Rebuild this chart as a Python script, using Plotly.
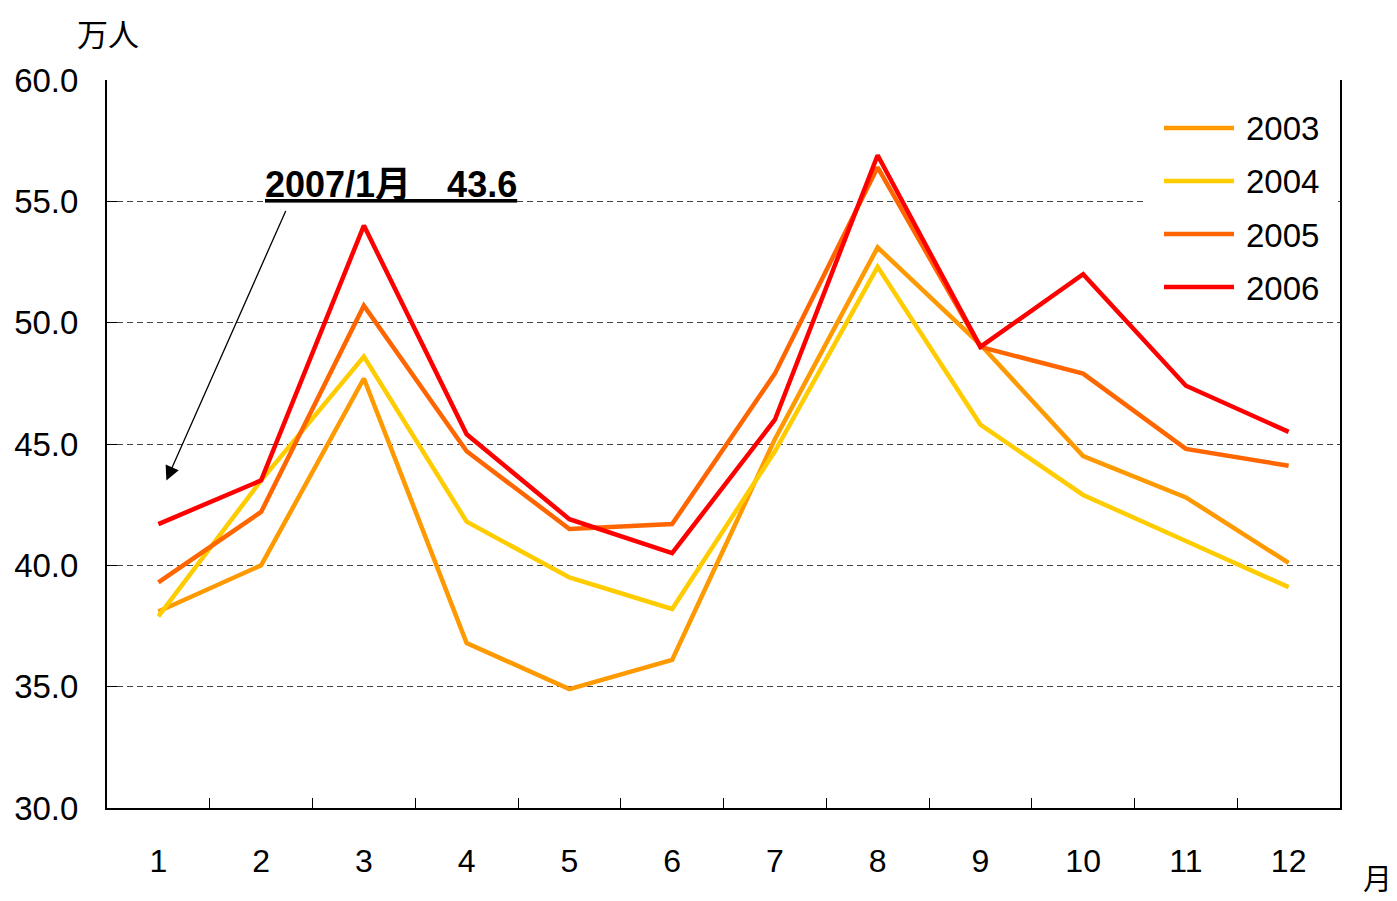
import plotly.graph_objects as go

months = ["1", "2", "3", "4", "5", "6", "7", "8", "9", "10", "11", "12"]
y2003 = [38.1, 40.0, 47.7, 36.8, 34.9, 36.1, 45.2, 53.1, 49.1, 44.5, 42.8, 40.1]
y2004 = [37.9, 43.5, 48.6, 41.8, 39.5, 38.2, 44.7, 52.3, 45.8, 42.9, 41.0, 39.1]
y2005 = [39.3, 42.2, 50.7, 44.7, 41.5, 41.7, 47.9, 56.4, 49.0, 47.9, 44.8, 44.1]
y2006 = [41.7, 43.5, 54.0, 45.4, 41.9, 40.5, 46.0, 56.9, 49.0, 52.0, 47.4, 45.5]
series_names = ["2003", "2004", "2005", "2006"]
colors = ["#FF9900", "#FFCC00", "#FF6600", "#FF0000"]
note_text = "2007/1月\u300043.6"
note_value = 43.5

FONT = "Liberation Sans, Arial, Noto Sans CJK JP, sans-serif"
CJK = "Noto Sans CJK JP, sans-serif"

# plot area in screen pixels (page has an 8px body margin)
OFF = 8
W, H = 1397 - OFF, 901 - OFF
PX0, PX1, PY0, PY1 = 107, 1340, 80, 808
PW, PH = PX1 - PX0, PY1 - PY0


def px(x):
    return (x - PX0) / PW


def py(y):
    return (PY1 - y) / PH


fig = go.Figure()
for name, vals, col in zip(series_names, [y2003, y2004, y2005, y2006], colors):
    fig.add_trace(go.Scatter(
        x=months, y=vals, name=name, mode="lines",
        line=dict(color=col, width=4.5),
    ))

fig.update_layout(
    width=W, height=H,
    margin=dict(l=PX0 - OFF, r=W - (PX1 - OFF), t=PY0 - OFF, b=H - (PY1 - OFF), autoexpand=False),
    paper_bgcolor="white", plot_bgcolor="white",
    font=dict(family=FONT, size=32, color="black"),
    showlegend=False,
    xaxis=dict(
        type="category", tickson="boundaries", automargin=False,
        ticks="inside", ticklen=10, tickwidth=1, tickcolor="black",
        showline=True, linecolor="black", linewidth=2,
        showgrid=False, tickfont=dict(size=32), ticklabelstandoff=24,
        range=[-0.5, 11.5],
    ),
    yaxis=dict(
        range=[30, 60], dtick=5, tickformat=".1f", automargin=False,
        ticks="inside", ticklen=10, tickwidth=1, tickcolor="black",
        showline=True, linecolor="black", linewidth=2, mirror=True,
        showgrid=True, gridcolor="#444444", gridwidth=1, griddash="6px,4px",
        zeroline=False, tickfont=dict(size=33), ticklabelstandoff=20,
    ),
)

# legend box (white background hiding the gridline) and entries
fig.add_shape(type="rect", xref="paper", yref="paper",
              x0=px(1143), x1=px(1338), y0=py(312), y1=py(104),
              fillcolor="white", line=dict(width=0), layer="above")
for i, (name, col) in enumerate(zip(series_names, colors)):
    yc = 128 + i * 53
    fig.add_shape(type="line", xref="paper", yref="paper",
                  x0=px(1164), x1=px(1234), y0=py(yc), y1=py(yc),
                  line=dict(color=col, width=4.5), layer="above")
    fig.add_annotation(xref="paper", yref="paper", x=px(1244), y=py(yc + 1),
                       xanchor="left", yanchor="middle", text=name, showarrow=False,
                       font=dict(family=FONT, size=33, color="black"))

fig.add_annotation(
    xref="paper", yref="paper", x=px(108), y=py(32), xanchor="center", yanchor="middle",
    text="万人", showarrow=False, font=dict(family=CJK, size=31, color="black"),
)
fig.add_annotation(
    xref="paper", yref="paper", x=px(1377), y=py(877), xanchor="center", yanchor="middle",
    text="月", showarrow=False, font=dict(family=CJK, size=29, color="black"),
)
fig.add_annotation(
    xref="paper", yref="paper", x=px(391), y=py(184), xanchor="center", yanchor="middle",
    text="<b><u>" + note_text + "</u></b>", showarrow=False,
    font=dict(family=FONT, size=36, color="black"),
)
fig.add_annotation(
    xref="x", yref="y", x=0.078, y=note_value, text="",
    showarrow=True, arrowhead=2, arrowsize=2.2, arrowwidth=1.3, arrowcolor="black",
    ax=120, ay=-271, standoff=0, startstandoff=0,
)

fig.write_html("out.html")
